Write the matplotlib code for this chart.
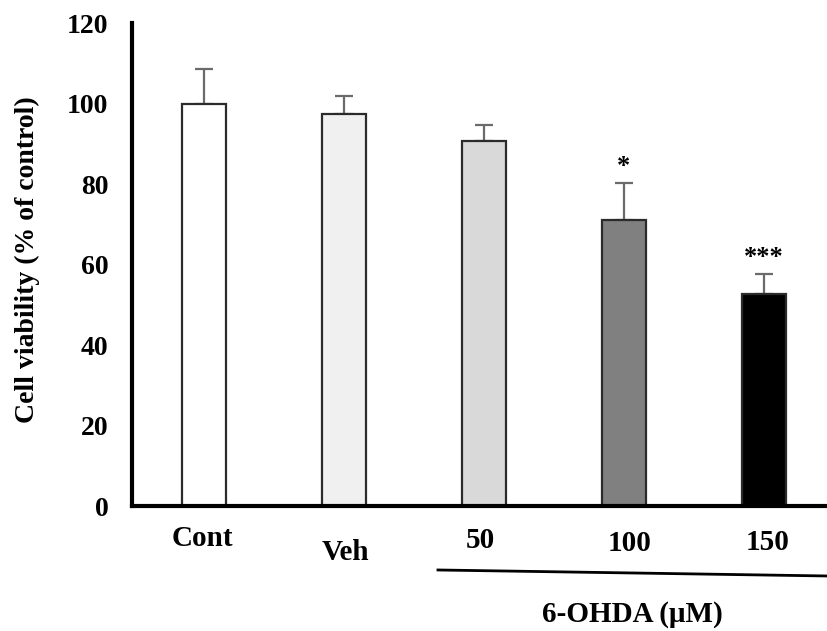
import matplotlib.pyplot as plt
from matplotlib.lines import Line2D
from matplotlib.transforms import offset_copy
import numpy as np

# ===== Data =====
groups = ["Cont", "Veh", "50", "100", "150"]
viability = [100.0, 97.4, 90.7, 71.1, 52.6]
sem = [8.6, 4.5, 4.0, 9.1, 5.0]
stars = ["", "", "", "*", "***"]
bar_colors = ["#ffffff", "#f0f0f0", "#d9d9d9", "#808080", "#000000"]
yticks = [0, 20, 40, 60, 80, 100, 120]

# label nudges in pixels (dx, dy below axis)
label_shift = [(-2, -32), (1, -46), (-4, -34), (6, -37), (4, -36)]

plt.rcParams['font.family'] = ['Liberation Serif', 'DejaVu Serif']
plt.rcParams['font.weight'] = 'bold'

fig = plt.figure(figsize=(8.27, 6.31), dpi=100)
ax = fig.add_axes([0.1596, 0.198, 0.8404, 0.7655])

x = np.arange(len(groups))
ax.bar(x, viability, width=0.314, color=bar_colors, edgecolor="#2b2b2b",
       linewidth=1.6, zorder=2)
ax.errorbar(x, viability, yerr=[np.zeros(len(sem)), sem], fmt="none",
            ecolor="#6b6b6b", elinewidth=1.6, capsize=6.5, capthick=1.6, zorder=1)

for i, s in enumerate(stars):
    if s:
        ax.text(x[i], viability[i] + sem[i] + 4.2, s, ha="center", va="center",
                fontsize=19, fontweight="bold")

ax.set_xlim(-0.514, 4.45)
ax.set_ylim(0, 120)
ax.set_yticks(yticks)
ax.set_yticklabels([str(t) for t in yticks], fontsize=20, fontweight="bold")
ax.tick_params(axis="y", length=0, pad=17)
ax.set_xticks([])

for sp in ["top", "right"]:
    ax.spines[sp].set_visible(False)
ax.spines["left"].set_linewidth(3)
ax.spines["bottom"].set_linewidth(3)

# category labels under the axis
for i, g in enumerate(groups):
    dx, dy = label_shift[i]
    tr = offset_copy(ax.get_xaxis_transform(), fig=fig, x=dx, y=dy, units="dots")
    ax.text(x[i], 0, g, transform=tr, ha="center", va="center",
            fontsize=21, fontweight="bold", clip_on=False)

ax.set_ylabel("Cell viability (% of control)", fontsize=20, fontweight="bold")
ax.yaxis.set_label_coords(-0.133, 0.51)

# treatment bracket
fig.add_artist(Line2D([0.5296, 1.0], [0.0967, 0.0872], color="black",
                      linewidth=2, transform=fig.transFigure))
fig.text(0.765, 0.0254, "6-OHDA (\u03bcM)", ha="center", va="center",
         fontsize=21, fontweight="bold")

fig.savefig("out.png", dpi=100)
